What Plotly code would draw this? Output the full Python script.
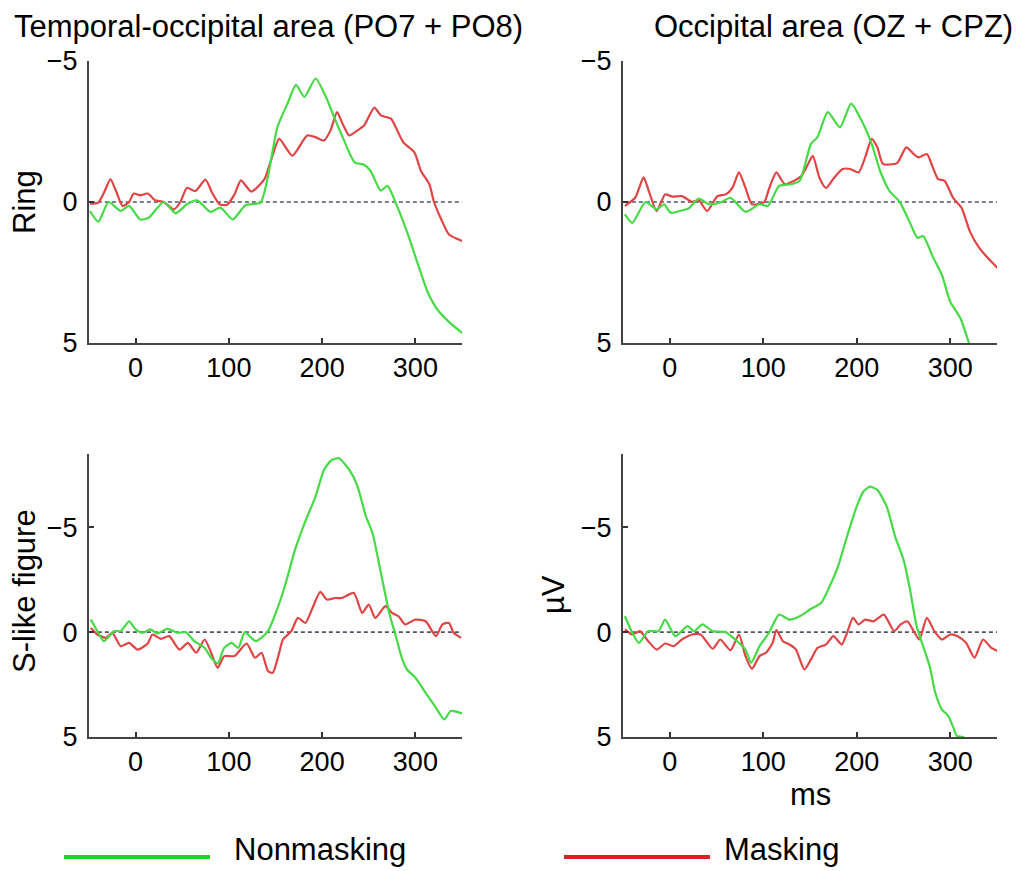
import plotly.graph_objects as go

# ---------------- data (ms, µV) ----------------
# Top-left: Ring, Temporal-occipital (PO7 + PO8)
t_ring_to_non = [-49, -40, -29, -16, -7, 5, 14, 30, 43, 55, 66, 80, 91, 104, 118, 134, 141, 152, 163, 172, 181, 193, 204, 213, 222, 235, 245, 252, 263, 270, 281, 292, 303, 313, 324, 336, 351]
v_ring_to_non = [0.32, 0.7, 0.0, 0.32, 0.14, 0.62, 0.56, 0.0, 0.4, 0.08, -0.06, 0.35, 0.2, 0.62, 0.11, 0.02, -0.75, -2.65, -3.5, -4.15, -3.73, -4.38, -3.73, -3.0, -2.3, -1.4, -1.32, -1.1, -0.4, -0.57, 0.2, 1.15, 2.23, 3.18, 3.83, 4.25, 4.67]
t_ring_to_mask = [-49, -40, -34, -27, -21, -14, -7, -2, 5, 13, 21, 30, 41, 48, 55, 64, 75, 82, 90, 98, 106, 113, 124, 138, 145, 154, 168, 184, 193, 202, 209, 216, 222, 229, 238, 245, 256, 263, 274, 279, 287, 299, 306, 315, 320, 327, 336, 351]
v_ring_to_mask = [0.06, 0.02, -0.33, -0.8, -0.39, 0.14, 0.0, -0.3, -0.24, -0.3, -0.06, 0.0, 0.26, 0.0, -0.5, -0.39, -0.79, -0.33, 0.08, 0.1, -0.27, -0.77, -0.37, -0.8, -1.46, -2.24, -1.64, -2.36, -2.3, -2.18, -2.54, -3.19, -2.77, -2.36, -2.54, -2.71, -3.35, -3.07, -2.95, -2.65, -2.12, -1.76, -1.1, -0.63, 0.0, 0.56, 1.15, 1.39]

# Top-right: Ring, Occipital (OZ + CPZ)
t_ring_oc_non = [-48, -40, -26, -14, -6, 1, 13, 20, 31, 42, 54, 65, 81, 96, 105, 117, 130, 139, 151, 158, 169, 182, 194, 205, 216, 225, 235, 246, 257, 265, 271, 282, 291, 300, 311, 320, 326]
v_ring_oc_non = [0.44, 0.74, 0.0, 0.26, 0.08, 0.38, 0.3, 0.23, -0.12, 0.08, 0.02, -0.15, 0.35, 0.08, 0.14, -0.57, -0.63, -0.75, -2.06, -2.3, -3.19, -2.65, -3.49, -2.9, -2.06, -1.1, -0.39, 0.0, 0.74, 1.27, 1.21, 1.99, 2.58, 3.54, 4.13, 5.0, 5.6]
t_ring_oc_mask = [-48, -37, -28, -23, -14, -5, 3, 13, 24, 31, 40, 51, 60, 67, 74, 81, 88, 101, 106, 114, 123, 133, 141, 148, 153, 160, 167, 176, 185, 193, 202, 209, 216, 222, 228, 243, 253, 261, 266, 275, 282, 287, 294, 303, 312, 321, 331, 342, 351]
v_ring_oc_mask = [0.14, -0.15, -0.87, -0.45, 0.32, -0.27, -0.19, -0.21, 0.0, -0.06, 0.32, -0.21, -0.27, -0.5, -1.05, -0.5, 0.08, 0.0, -0.45, -1.05, -0.63, -0.75, -0.93, -1.35, -1.64, -0.87, -0.5, -0.87, -1.17, -1.17, -1.05, -1.58, -2.24, -1.94, -1.35, -1.38, -1.94, -1.7, -1.58, -1.7, -1.17, -0.81, -0.75, -0.15, 0.2, 1.04, 1.63, 2.05, 2.35]

# Bottom-left: S-like figure, Temporal-occipital
t_s_to_non = [-48, -41, -34, -23, -16, -7, 0, 7, 16, 23, 34, 45, 54, 63, 74, 81, 88, 95, 103, 110, 117, 124, 129, 137, 142, 151, 160, 171, 182, 193, 202, 210, 218, 229, 238, 247, 254, 263, 272, 279, 286, 291, 300, 311, 322, 331, 338, 353]
v_s_to_non = [-0.6, -0.05, 0.43, -0.05, -0.05, -0.52, -0.13, 0.03, -0.13, 0.06, -0.16, 0.03, 0.0, 0.43, 0.75, 1.22, 1.49, 0.75, 0.51, 0.75, 0.0, 0.27, 0.43, 0.19, -0.05, -1.0, -2.19, -3.94, -5.29, -6.48, -7.75, -8.2, -8.3, -7.75, -6.95, -5.52, -4.73, -2.83, -0.92, 0.19, 1.3, 1.78, 2.17, 2.89, 3.6, 4.16, 3.76, 3.92]
t_s_to_mask = [-48, -41, -32, -25, -16, -7, 2, 13, 18, 27, 36, 47, 56, 65, 74, 81, 88, 95, 106, 119, 128, 135, 142, 147, 153, 158, 167, 174, 182, 189, 198, 205, 214, 221, 234, 243, 250, 257, 268, 275, 282, 289, 300, 311, 322, 329, 336, 341, 349]
v_s_to_mask = [-0.2, 0.11, 0.27, 0.03, 0.67, 0.51, 0.83, 0.54, 0.11, 0.32, 0.19, 0.83, 0.51, 0.98, 0.35, 0.98, 1.7, 1.14, 1.14, 0.54, 1.22, 0.98, 1.86, 1.94, 1.14, 0.35, -0.05, -0.68, -0.44, -1.08, -1.92, -1.56, -1.63, -1.63, -1.87, -0.92, -1.32, -0.68, -1.24, -0.92, -0.76, -0.37, -0.6, -0.52, 0.19, -0.37, -0.44, 0.03, 0.27]

# Bottom-right: S-like figure, Occipital
t_s_oc_non = [-48, -40, -33, -23, -12, -5, 6, 19, 26, 35, 46, 60, 70, 81, 87, 96, 106, 117, 128, 139, 150, 162, 171, 180, 189, 200, 207, 214, 222, 232, 241, 250, 257, 264, 271, 278, 284, 291, 298, 304, 307, 315]
v_s_oc_non = [-0.76, 0.03, 0.51, -0.05, -0.05, -0.6, 0.19, -0.29, -0.05, -0.37, -0.05, 0.0, 0.35, 0.83, 1.46, 0.67, 0.03, -0.84, -0.6, -0.76, -1.08, -1.4, -2.19, -3.14, -4.48, -6.0, -6.7, -6.94, -6.79, -6.0, -4.57, -3.46, -2.03, -0.29, 0.67, 1.62, 2.89, 3.68, 4.0, 4.63, 4.95, 5.0]
t_s_oc_mask = [-48, -40, -32, -23, -14, -5, 4, 13, 24, 33, 46, 54, 65, 74, 81, 88, 96, 103, 110, 114, 121, 128, 135, 144, 151, 158, 167, 175, 184, 189, 196, 202, 209, 218, 229, 240, 247, 254, 262, 267, 275, 283, 291, 300, 308, 317, 326, 335, 344, 353]
v_s_oc_mask = [-0.13, 0.11, -0.05, 0.43, 0.83, 0.54, 0.67, 0.35, 0.11, 0.11, 0.79, 0.35, 0.86, 0.11, 1.14, 1.75, 1.14, 0.98, 0.51, -0.1, 0.43, 0.59, 0.83, 1.78, 1.3, 0.75, 0.59, 0.19, 0.59, 0.11, -0.68, -0.37, -0.6, -0.52, -0.84, -0.05, -0.37, -0.52, 0.03, 0.35, -0.68, -0.05, 0.35, 0.11, 0.19, 0.51, 1.22, 0.35, 0.75, 0.94]

# ---------------- labels ----------------
col_titles = ["Temporal-occipital area (PO7 + PO8)", "Occipital area (OZ + CPZ)"]
row_titles = ["Ring", "S-like figure"]
series_names = ["Nonmasking", "Masking"]
x_ticks = [0, 100, 200, 300]
y_ticks = [-5, 0, 5]
x_label = "ms"
y_label = "µV"

GREEN = "rgb(70,218,70)"
RED = "rgb(224,68,68)"
LEG_GREEN = "rgb(40,205,40)"
LEG_RED = "rgb(215,35,35)"
FONT = "Liberation Sans, Arial, Helvetica, sans-serif"

panels = [
    (1, t_ring_to_non, v_ring_to_non, t_ring_to_mask, v_ring_to_mask),
    (2, t_ring_oc_non, v_ring_oc_non, t_ring_oc_mask, v_ring_oc_mask),
    (3, t_s_to_non, v_s_to_non, t_s_to_mask, v_s_to_mask),
    (4, t_s_oc_non, v_s_oc_non, t_s_oc_mask, v_s_oc_mask),
]

W, H = 1026, 871
xdom = [[89 / W, 462 / W], [623 / W, 997 / W]]
ydom = [[1 - 343 / H, 1 - 61 / H], [1 - 737 / H, 1 - 454 / H]]
yranges = [[5, -5], [5, -8.5]]

fig = go.Figure()
layout = dict(
    width=W, height=H, margin=dict(l=0, r=0, t=0, b=0, pad=0, autoexpand=False),
    paper_bgcolor="white", plot_bgcolor="white",
    showlegend=False, font=dict(family=FONT, color="black"),
)

axis_common = dict(
    showline=True, linecolor="#444444", linewidth=2, showgrid=False, zeroline=False,
    ticks="inside", ticklen=5, tickwidth=2, tickcolor="#333333", automargin=False,
    tickfont=dict(family=FONT, size=27, color="black"),
)

shapes = []
for idx, tn, vn, tm, vm in panels:
    r = (idx - 1) // 2
    c = (idx - 1) % 2
    xa = "x" if idx == 1 else f"x{idx}"
    ya = "y" if idx == 1 else f"y{idx}"
    layout["xaxis" if idx == 1 else f"xaxis{idx}"] = dict(
        axis_common, domain=xdom[c], anchor=ya, range=[-50, 350],
        tickvals=x_ticks, ticklabelstandoff=0,
    )
    layout["yaxis" if idx == 1 else f"yaxis{idx}"] = dict(
        axis_common, domain=ydom[r], anchor=xa, range=yranges[r],
        tickvals=y_ticks, ticklabelstandoff=4,
    )
    shapes.append(dict(type="line", xref=f"{xa} domain", yref=ya, x0=0.005, x1=1.0, y0=0, y1=0,
                       line=dict(color="#4f5668", width=1.7, dash="4px,3px"), layer="below"))
    fig.add_trace(go.Scatter(x=tm, y=vm, xaxis=xa, yaxis=ya, mode="lines", name=series_names[1],
                             line=dict(color=RED, width=2.2, shape="spline", smoothing=0.6)))
    fig.add_trace(go.Scatter(x=tn, y=vn, xaxis=xa, yaxis=ya, mode="lines", name=series_names[0],
                             line=dict(color=GREEN, width=2.2, shape="spline", smoothing=0.6)))

annotations = [
    dict(text=col_titles[0], x=268 / W, y=1 - 27 / H, xref="paper", yref="paper",
         showarrow=False, font=dict(size=31, family=FONT), xanchor="center", yanchor="middle"),
    dict(text=col_titles[1], x=833 / W, y=1 - 27 / H, xref="paper", yref="paper",
         showarrow=False, font=dict(size=31, family=FONT), xanchor="center", yanchor="middle"),
    dict(text=row_titles[0], x=25 / W, y=1 - 202 / H, xref="paper", yref="paper", textangle=-90,
         showarrow=False, font=dict(size=31, family=FONT), xanchor="center", yanchor="middle"),
    dict(text=row_titles[1], x=24 / W, y=1 - 591 / H, xref="paper", yref="paper", textangle=-90,
         showarrow=False, font=dict(size=31, family=FONT), xanchor="center", yanchor="middle"),
    dict(text=y_label, x=553 / W, y=1 - 595 / H, xref="paper", yref="paper", textangle=-90,
         showarrow=False, font=dict(size=31, family=FONT), xanchor="center", yanchor="middle"),
    dict(text=x_label, x=810 / W, y=1 - 794 / H, xref="paper", yref="paper",
         showarrow=False, font=dict(size=31, family=FONT), xanchor="center", yanchor="middle"),
    dict(text=series_names[0], x=232 / W, y=1 - 849 / H, xref="paper", yref="paper",
         showarrow=False, font=dict(size=31, family=FONT), xanchor="left", yanchor="middle"),
    dict(text=series_names[1], x=722 / W, y=1 - 849 / H, xref="paper", yref="paper",
         showarrow=False, font=dict(size=31, family=FONT), xanchor="left", yanchor="middle"),
]
shapes.append(dict(type="line", xref="paper", yref="paper", x0=64 / W, x1=210 / W,
                   y0=1 - 857 / H, y1=1 - 857 / H, line=dict(color=LEG_GREEN, width=4)))
shapes.append(dict(type="line", xref="paper", yref="paper", x0=564 / W, x1=710 / W,
                   y0=1 - 857 / H, y1=1 - 857 / H, line=dict(color=LEG_RED, width=4)))

layout["shapes"] = shapes
layout["annotations"] = annotations
fig.update_layout(**layout)
fig.write_html("out.html")
